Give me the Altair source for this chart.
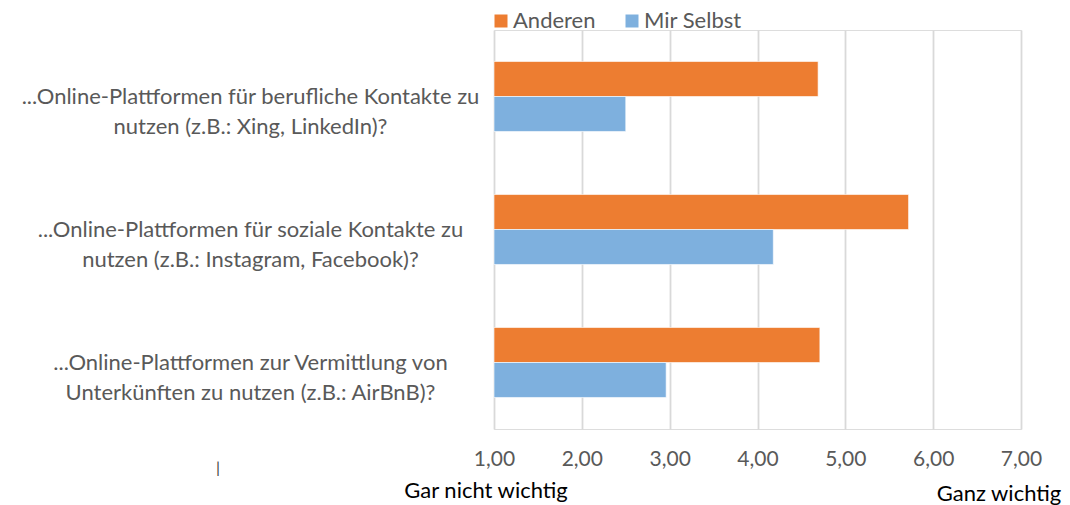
import altair as alt
import pandas as pd

categories = [
    "...Online-Plattformen für berufliche Kontakte zu\nnutzen (z.B.: Xing, LinkedIn)?",
    "...Online-Plattformen für soziale Kontakte zu\nnutzen (z.B.: Instagram, Facebook)?",
    "...Online-Plattformen zur Vermittlung von\nUnterkünften zu nutzen (z.B.: AirBnB)?",
]
series = ["Anderen", "Mir Selbst"]
anderen = [4.69, 5.72, 4.71]
mir_selbst = [2.50, 4.18, 2.96]
colors = ["#ED7D31", "#7EB0DE"]
x_ticks = [1, 2, 3, 4, 5, 6, 7]
low_label = "Gar nicht wichtig"
high_label = "Ganz wichtig"

rows = []
for c, a, m in zip(categories, anderen, mir_selbst):
    rows.append({"cat": c, "series": series[0], "value": a})
    rows.append({"cat": c, "series": series[1], "value": m})
df = pd.DataFrame(rows)

FONT = "Lato"
GRAY = "#595959"

bars = alt.Chart(df).mark_bar(stroke="white", strokeWidth=1, strokeOpacity=0.6).encode(
    y=alt.Y("cat:N", sort=categories,
            scale=alt.Scale(paddingInner=0.474, paddingOuter=0.237),
            axis=alt.Axis(title=None, labelExpr="split(datum.label, '\\n')",
                          labelAlign="center", labelBaseline="middle",
                          labelPadding=244, ticks=False, domain=False, grid=False,
                          labelFont=FONT, labelFontSize=22, labelColor=GRAY,
                          labelLineHeight=30, labelLimit=0)),
    yOffset=alt.YOffset("series:N", sort=series),
    x=alt.X("value:Q", scale=alt.Scale(domain=[1, 7], zero=False, nice=False),
            axis=alt.Axis(title=None, values=x_ticks, grid=True, gridColor="#D9D9D9",
                          gridWidth=1.8, domain=False, ticks=False, labelPadding=19,
                          labelFlush=False,
                          labelExpr="replace(format(datum.value, '.2f'), '.', ',')",
                          labelFont=FONT, labelFontSize=21, labelColor=GRAY)),
    x2=alt.datum(1),
    color=alt.Color("series:N", sort=series,
                    scale=alt.Scale(domain=series, range=colors),
                    legend=alt.Legend(title=None, orient="none", direction="horizontal",
                                      legendX=-4, legendY=-20, symbolType="square",
                                      symbolSize=169, symbolStrokeWidth=0,
                                      labelFont=FONT, labelFontSize=22, labelColor=GRAY,
                                      labelOffset=1, columnPadding=25)),
)

ann = pd.DataFrame({"t": [low_label]})
low = alt.Chart(ann).mark_text(font=FONT, fontSize=22, fill="black", align="center", baseline="middle").encode(
    text="t:N", x=alt.value(-8), y=alt.value(461))
ann2 = pd.DataFrame({"t": [high_label]})
high = alt.Chart(ann2).mark_text(font=FONT, fontSize=22, fill="black", align="center", baseline="middle").encode(
    text="t:N", x=alt.value(505), y=alt.value(464))
ann3 = pd.DataFrame({"t": ["|"]})
bar_mark = alt.Chart(ann3).mark_text(font=FONT, fontSize=16, fill="#404040", align="center", baseline="middle").encode(
    text="t:N", x=alt.value(-276), y=alt.value(438))

chart = alt.layer(bars, low, high, bar_mark).properties(
    width=527, height=399,
    autosize=alt.AutoSizeParams(type="none"),
    padding={"left": 494, "top": 30, "right": 49, "bottom": 76},
).configure_view(stroke=None).configure(background="white")

chart.save("out.html", embed_options={"renderer": "svg", "actions": False})
